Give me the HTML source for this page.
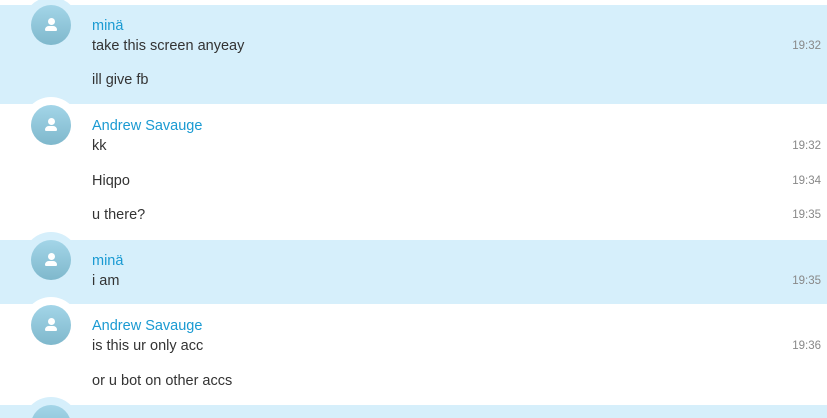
<!DOCTYPE html>
<html><head><meta charset="utf-8"><style>
html,body{margin:0;padding:0;width:827px;height:418px;overflow:hidden;background:#fff;font-family:"Liberation Sans",sans-serif;}
#w{position:relative;width:827px;height:418px;overflow:hidden;}
.band{position:absolute;left:0;width:827px;background:#d6effb;}
.halo{position:absolute;width:56px;height:56px;border-radius:50%;}
.av{position:absolute;width:40px;height:40px;border-radius:50%;background:linear-gradient(#a3d5e8,#7fb8cc);}
.av::before{content:"";position:absolute;left:17px;top:13px;width:7px;height:7px;border-radius:50%;background:#fff;}
.av::after{content:"";position:absolute;left:14px;top:21px;width:12px;height:5px;border-radius:6px 6px 2px 2px;background:#fff;}
.t{position:absolute;left:92px;font-size:14.5px;color:#333;line-height:18px;white-space:nowrap;}
.n{color:#1a9ad2;}
.tm{position:absolute;right:6px;font-size:11.5px;color:#888;line-height:14px;}
</style></head><body><div id="w">
<div class="band" style="top:5px;height:99px"></div>
<div class="band" style="top:240px;height:64px"></div>
<div class="band" style="top:405px;height:13px"></div>

<div class="halo" style="left:23px;top:-3px;background:#d6effb"></div>
<div class="halo" style="left:23px;top:97px;background:#fff"></div>
<div class="halo" style="left:23px;top:232px;background:#d6effb"></div>
<div class="halo" style="left:23px;top:297px;background:#fff"></div>
<div class="halo" style="left:23px;top:397px;background:#d6effb"></div>

<div class="av" style="left:31px;top:5px"></div>
<div class="av" style="left:31px;top:105px"></div>
<div class="av" style="left:31px;top:240px"></div>
<div class="av" style="left:31px;top:305px"></div>
<div class="av" style="left:31px;top:405px"></div>

<div class="t n" style="top:17px">minä</div>
<div class="t" style="top:37px">take this screen anyeay</div><div class="tm" style="top:39px">19:32</div>
<div class="t" style="top:71px">ill give fb</div>

<div class="t n" style="top:117px">Andrew Savauge</div>
<div class="t" style="top:137px">kk</div><div class="tm" style="top:139px">19:32</div>
<div class="t" style="top:172px">Hiqpo</div><div class="tm" style="top:174px">19:34</div>
<div class="t" style="top:206px">u there?</div><div class="tm" style="top:208px">19:35</div>

<div class="t n" style="top:252px">minä</div>
<div class="t" style="top:272px">i am</div><div class="tm" style="top:274px">19:35</div>

<div class="t n" style="top:317px">Andrew Savauge</div>
<div class="t" style="top:337px">is this ur only acc</div><div class="tm" style="top:339px">19:36</div>
<div class="t" style="top:372px">or u bot on other accs</div>
</div></body></html>
